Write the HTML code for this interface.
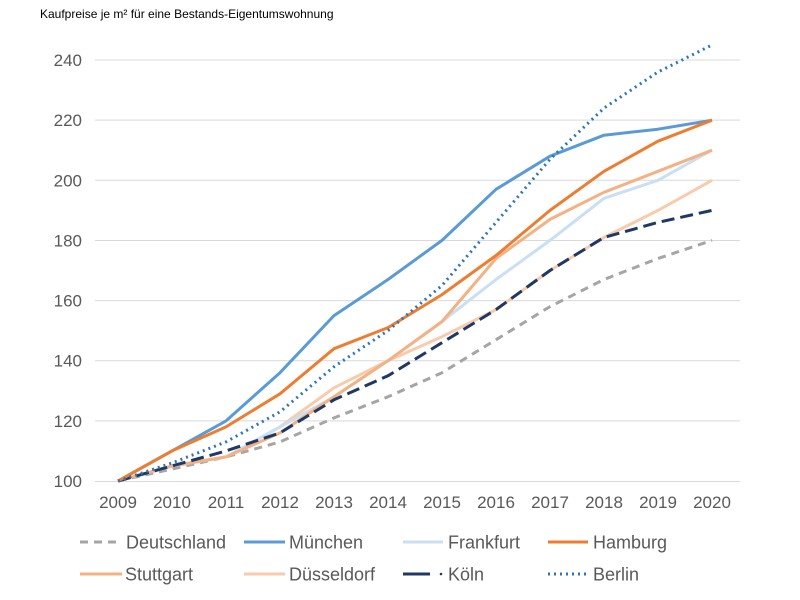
<!DOCTYPE html>
<html><head><meta charset="utf-8"><style>
body{margin:0;background:#fff;}
svg{display:block;font-family:"Liberation Sans",Arial,sans-serif;}
</style></head><body>
<svg id="c" width="800" height="600" xmlns="http://www.w3.org/2000/svg">
<text x="40" y="18" font-size="12" fill="#000">Kaufpreise je m² für eine Bestands-Eigentumswohnung</text>
<g id="grid" stroke="#d9d9d9" stroke-width="1"></g>
<g id="ylab" font-size="17" fill="#595959" text-anchor="end"></g>
<g id="xlab" font-size="17" fill="#595959" text-anchor="middle"></g>
<g id="lines" fill="none" stroke-linejoin="round"></g>
<g id="leg" font-size="18" fill="#595959"></g>
</svg>
<script>
var NS="http://www.w3.org/2000/svg";
function el(p,t,a,txt){var e=document.createElementNS(NS,t);for(var k in a)e.setAttribute(k,a[k]);if(txt)e.textContent=txt;document.getElementById(p).appendChild(e);return e;}
function Y(v){return 481-(v-100)*3.007;}
function X(i){return 118+i*54;}
for(var v=100;v<=240;v+=20){var y=Y(v);if(v>100)el("grid","line",{x1:95,x2:740,y1:y,y2:y});el("ylab","text",{x:82,y:y+6},String(v));}
el("grid","line",{x1:95,x2:740,y1:481.5,y2:481.5,stroke:"#d9d9d9"});
for(var i=0;i<12;i++)el("xlab","text",{x:X(i),y:508},String(2009+i));
var S=[
["Deutschland","#a5a5a5",3,"8,6",[100,104,108,113,121,128,136,147,158,167,174,180]],
["Düsseldorf","#f8cbad",3,"",[100,105,108,118,131,140,148,157,170,181,190,200]],
["Frankfurt","#c9dff2",3,"",[100,105,108,118,128,140,153,167,180,194,200,210]],
["Stuttgart","#f4b183",3,"",[100,105,108,116,128,140,153,174,187,196,203,210]],
["Köln","#1f3864",3,"13,6",[100,105,110,116,127,135,146,157,170,181,186,190]],
["München","#5b9bd5",3,"",[100,110,120,136,155,167,180,197,208,215,217,220]],
["Hamburg","#ed7d31",3,"",[100,110,118,129,144,151,162,175,190,203,213,220]],
["Berlin","#2e75b6",3,"2,4",[100,106,113,123,138,150,165,186,207,224,236,245]]];
S.forEach(function(s){var p=s[4].map(function(v,i){return X(i)+","+Y(v).toFixed(1)}).join(" ");
var a={points:p,stroke:s[1],"stroke-width":s[2]};if(s[3])a["stroke-dasharray"]=s[3];el("lines","polyline",a);});
var L=[["Deutschland",80,120,126,542],["München",244,285,289,542],["Frankfurt",403,443,448,542],["Hamburg",548,588,593,542],
["Stuttgart",80,122,125,574],["Düsseldorf",244,285,289,574],["Köln",403,430,448,574],["Berlin",548,588,593,574]];
L.forEach(function(l){var s=S.filter(function(q){return q[0]==l[0]})[0];var a={x1:l[1],x2:l[2],y1:l[4],y2:l[4],stroke:s[1],"stroke-width":3};
if(s[3]&&l[0]!="Köln")a["stroke-dasharray"]=s[3];el("leg","line",a);
if(l[0]=="Köln")el("leg","circle",{cx:441,cy:l[4],r:1.3,fill:s[1]});
el("leg","text",{x:l[3],y:l[4]+6.5},l[0]);});
</script>
</body></html>
